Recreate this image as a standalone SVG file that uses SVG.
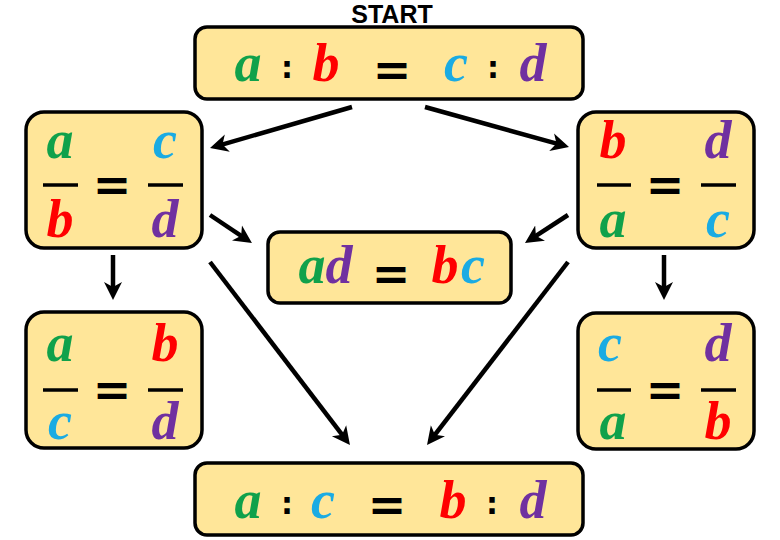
<svg xmlns="http://www.w3.org/2000/svg" width="780" height="540" viewBox="0 0 780 540">
<defs>
<style>
.box{fill:#FFE699;stroke:#000;stroke-width:3.5}
.v{font-family:"Liberation Serif","DejaVu Serif",serif;font-weight:bold;font-style:italic;font-size:54px;text-anchor:middle}
.eq{font-family:"DejaVu Sans",sans-serif;font-weight:bold;font-size:46px;text-anchor:middle;fill:#000}
.col{font-family:"DejaVu Sans",sans-serif;font-weight:bold;font-size:30px;text-anchor:middle;fill:#000}
.bar{stroke:#000;stroke-width:3.5}
.g{fill:#10A14B}.r{fill:#FF0000}.b{fill:#1AABE3}.p{fill:#7030A0}
.conn line{stroke:#000;stroke-width:4.5;marker-end:url(#ah)}
.lbl{font-family:"Liberation Sans",Arial,sans-serif;font-weight:bold;font-size:25px;text-anchor:middle;fill:#000}
</style>
<marker id="ah" viewBox="0 0 20 20" refX="10" refY="10" markerWidth="20" markerHeight="20" markerUnits="userSpaceOnUse" orient="auto">
<path d="M0,1 L18,10 L0,19 L5,10 z" fill="#000"/>
</marker>
</defs>
<rect width="780" height="540" fill="#fff"/>

<g id="start">
<text class="lbl" x="392" y="23">START</text>
<rect class="box" x="195" y="27" width="388" height="72" rx="12"/>
<text class="v g" x="248" y="81">a</text>
<text class="col" x="287" y="78">:</text>
<text class="v r" x="326" y="81">b</text>
<text class="eq" x="392" y="86">=</text>
<text class="v b" x="456" y="81">c</text>
<text class="col" x="493" y="78">:</text>
<text class="v p" x="533" y="81">d</text>
</g>

<g id="frac-ab-cd">
<rect class="box" x="26" y="112" width="176" height="136" rx="18"/>
<text class="v g" x="60" y="158">a</text>
<line class="bar" x1="43" y1="185" x2="78" y2="185"/>
<text class="v r" x="60" y="237">b</text>
<text class="eq" x="112" y="201">=</text>
<text class="v b" x="165" y="158">c</text>
<line class="bar" x1="148" y1="185" x2="183" y2="185"/>
<text class="v p" x="165" y="237">d</text>
</g>

<g id="frac-ba-dc">
<rect class="box" x="578" y="112" width="176" height="136" rx="18"/>
<text class="v r" x="613" y="158">b</text>
<line class="bar" x1="597" y1="185" x2="631" y2="185"/>
<text class="v g" x="613" y="237">a</text>
<text class="eq" x="665" y="201">=</text>
<text class="v p" x="718" y="158">d</text>
<line class="bar" x1="701" y1="185" x2="736" y2="185"/>
<text class="v b" x="718" y="237">c</text>
</g>

<g id="product">
<rect class="box" x="268" y="232" width="243" height="71" rx="12"/>
<text class="v g" x="312" y="283">a</text>
<text class="v p" x="339" y="283">d</text>
<text class="eq" x="391" y="290">=</text>
<text class="v r" x="445" y="283">b</text>
<text class="v b" x="473" y="283">c</text>
</g>

<g id="frac-ac-bd">
<rect class="box" x="26" y="312" width="176" height="136" rx="18"/>
<text class="v g" x="60" y="361">a</text>
<line class="bar" x1="43" y1="390" x2="78" y2="390"/>
<text class="v b" x="60" y="439">c</text>
<text class="eq" x="112" y="406">=</text>
<text class="v r" x="165" y="361">b</text>
<line class="bar" x1="148" y1="390" x2="183" y2="390"/>
<text class="v p" x="165" y="439">d</text>
</g>

<g id="frac-ca-db">
<rect class="box" x="578" y="313" width="176" height="136" rx="18"/>
<text class="v b" x="610" y="361">c</text>
<line class="bar" x1="597" y1="390" x2="631" y2="390"/>
<text class="v g" x="613" y="439">a</text>
<text class="eq" x="665" y="406">=</text>
<text class="v p" x="718" y="361">d</text>
<line class="bar" x1="701" y1="390" x2="736" y2="390"/>
<text class="v r" x="718" y="439">b</text>
</g>

<g id="ratio-ac-bd">
<rect class="box" x="195" y="463" width="388" height="72" rx="12"/>
<text class="v g" x="248" y="518">a</text>
<text class="col" x="287" y="514">:</text>
<text class="v b" x="323" y="518">c</text>
<text class="eq" x="387" y="521">=</text>
<text class="v r" x="453" y="518">b</text>
<text class="col" x="492" y="514">:</text>
<text class="v p" x="533" y="518">d</text>
</g>

<g id="connectors" class="conn">
<line x1="352" y1="107" x2="217.7" y2="145.8"/>
<line x1="425" y1="107" x2="561.3" y2="144.9"/>
<line x1="210" y1="215" x2="245.3" y2="238.6"/>
<line x1="568" y1="215" x2="531.7" y2="238.6"/>
<line x1="113" y1="255" x2="113" y2="292"/>
<line x1="664" y1="255" x2="664" y2="292"/>
<line x1="210" y1="262" x2="345.1" y2="438.6"/>
<line x1="568" y1="262" x2="431.9" y2="438.7"/>
</g>
</svg>
